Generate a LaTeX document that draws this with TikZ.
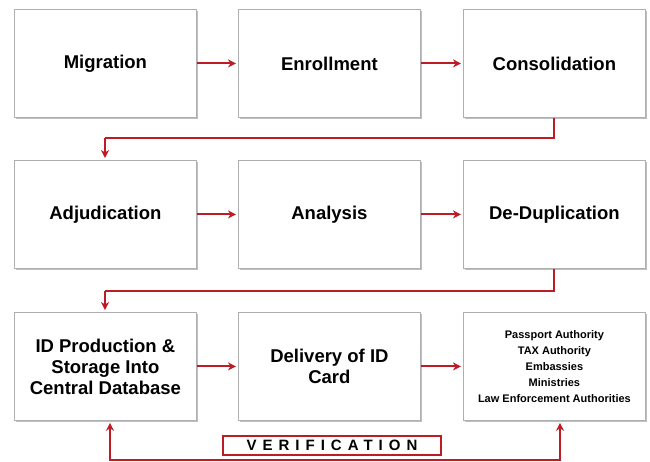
\documentclass[tikz,border=0pt]{standalone}
\usepackage{fontspec}
\setmainfont{Liberation Sans}
\usetikzlibrary{arrows.meta,shadows}
\definecolor{cred}{RGB}{190,28,36}
\definecolor{cborder}{RGB}{175,175,175}
\tikzset{
  box/.style={draw=cborder, line width=0.8pt, fill=white, minimum width=182pt, minimum height=108pt,
    anchor=north west, inner sep=0pt, align=center,
    font=\fontsize{18.5}{21}\selectfont\bfseries,
    drop shadow={shadow xshift=1.2pt, shadow yshift=-1.5pt, fill=black, opacity=0.25}},
  smallbox/.style={box, font=\fontsize{11}{16}\selectfont\bfseries},
  arr/.style={draw=cred, line width=2pt, -{Stealth[length=8pt,width=8pt,inset=2.5pt]}, shorten >=2pt},
  lnk/.style={draw=cred, line width=2pt},
  verbox/.style={draw=cred, line width=1.6pt, fill=white, minimum width=218pt, minimum height=19pt,
    inner sep=0pt, font=\fontsize{15}{15}\selectfont\bfseries\addfontfeature{LetterSpace=40}}
}
\begin{document}
\begin{tikzpicture}[x=1pt,y=-1pt]
\useasboundingbox (0,0) rectangle (650,461);
% row 1
\node[box] (m) at (14,9) {Migration};
\node[box] (e) at (238,9) {Enrollment};
\node[box] (c) at (463,9) {Consolidation};
% row 2
\node[box] (adj) at (14,160) {Adjudication};
\node[box] (an) at (238,160) {Analysis};
\node[box] (dd) at (463,160) {De-Duplication};
% row 3
\node[box] (idp) at (14,312) {ID Production \&\\Storage Into\\Central Database};
\node[box] (del) at (238,312) {Delivery of ID\\Card};
\node[smallbox] (auth) at (463,312) {Passport Authority\\TAX Authority\\Embassies\\Ministries\\Law Enforcement Authorities};
% horizontal arrows
\draw[arr] (m.east) -- (e.west);
\draw[arr] (e.east) -- (c.west);
\draw[arr] (adj.east) -- (an.west);
\draw[arr] (an.east) -- (dd.west);
\draw[arr] (idp.east) -- (del.west);
\draw[arr] (del.east) -- (auth.west);
% row transitions
\coordinate (t1) at (105,138);
\coordinate (t2) at (105,291);
\draw[lnk] (c.south -| 554,0) |- (t1);
\draw[arr] (t1) -- (adj.north -| t1);
\draw[lnk] (dd.south -| 554,0) |- (t2);
\draw[arr] (t2) -- (idp.north -| t2);
% verification
\coordinate (b) at (335,460);
\draw[arr] (b) -| (idp.south -| 110,0);
\draw[arr] (b) -| (auth.south -| 560,0);
\node[verbox] (ver) at (332,445.5) {VERIFICATION};
\end{tikzpicture}
\end{document}
